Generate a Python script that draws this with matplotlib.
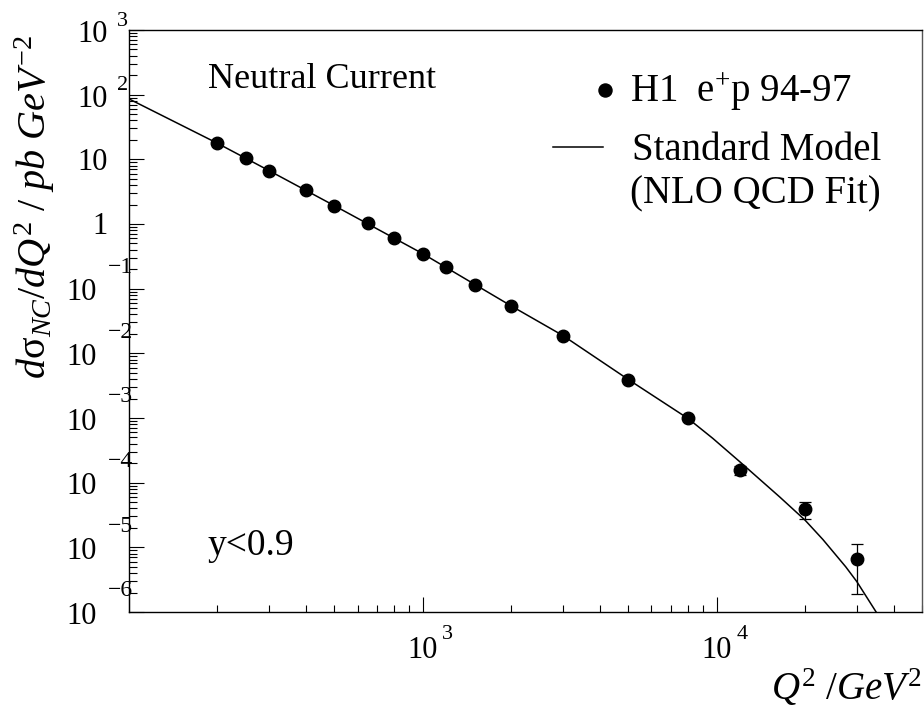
import matplotlib
matplotlib.use("Agg")
import matplotlib.pyplot as plt
from matplotlib import transforms
from matplotlib.lines import Line2D
from matplotlib.ticker import LogLocator, NullFormatter

# ---- Data ----
q2 = [200, 250, 300, 400, 500, 650, 800, 1000, 1200, 1500,
      2000, 3000, 5000, 8000, 12000, 20000, 30000]
xsec = [17.7, 10.4, 6.67, 3.36, 1.92, 1.03, 0.614, 0.347, 0.214, 0.114,
        0.054, 0.0188, 0.00387, 0.000988, 1.57e-4, 3.87e-5, 6.5e-6]
xsec_err = [0.5, 0.3, 0.2, 0.1, 0.06, 0.03, 0.02, 0.011, 0.007, 0.004,
            0.002, 0.0008, 0.0002, 6e-5, 2.6e-5, 1.1e-5, 4.6e-6]

sm_q2 = [100, 200, 300, 500, 1000, 2000, 3000, 5000, 8000, 9700,
         12000, 16400, 20000, 23000, 27500, 30000, 34900]
sm_xsec = [86, 17.7, 6.67, 1.92, 0.347, 0.054, 0.0188, 0.00395, 9.8e-4, 4.85e-4,
           2.1e-4, 6.0e-5, 2.63e-5, 1.32e-5, 5.0e-6, 2.95e-6, 1.0e-6]

y_exps = [-6, -5, -4, -3, -2, -1, 0, 1, 2, 3]
x_exps = [3, 4]

legend_data = "H1  e$^{+}$p 94-97"
legend_sm = ["Standard Model", "(NLO QCD Fit)"]

# ---- Style ----
plt.rcParams["font.family"] = ["Liberation Serif", "DejaVu Serif"]
plt.rcParams["mathtext.fontset"] = "custom"
plt.rcParams["mathtext.rm"] = "Liberation Serif"
plt.rcParams["mathtext.it"] = "Liberation Serif:italic"
plt.rcParams["mathtext.bf"] = "Liberation Serif:bold"

W, H = 924, 712
fig = plt.figure(figsize=(W / 100, H / 100), dpi=100)


def fx(x):
    return x / W


def fy(y):
    return 1 - y / H


ax = fig.add_axes([fx(129), fy(612), (922 - 129) / W, (612 - 30) / H])
ax.set_xscale("log")
ax.set_yscale("log")
ax.set_xlim(100, 5e4)
ax.set_ylim(1e-6, 1e3)

ax.plot(sm_q2, sm_xsec, color="black", lw=1.1)
ax.errorbar(q2, xsec, yerr=xsec_err, fmt="o", color="black", ms=9,
            elinewidth=0.9, capsize=4.3, capthick=0.9)

for sp in ax.spines.values():
    sp.set_linewidth(1.0)
ax.spines["right"].set_color("#555555")

ax.xaxis.set_major_locator(LogLocator(base=10, numticks=20))
ax.xaxis.set_minor_locator(LogLocator(base=10, subs=range(2, 10), numticks=20))
ax.yaxis.set_major_locator(LogLocator(base=10, numticks=20))
ax.yaxis.set_minor_locator(LogLocator(base=10, subs=range(2, 10), numticks=20))
ax.xaxis.set_minor_formatter(NullFormatter())
ax.yaxis.set_minor_formatter(NullFormatter())
ax.tick_params(which="both", direction="in", top=False, right=False,
               labelbottom=False, labelleft=False, width=0.8)
ax.tick_params(which="major", length=10.8)
ax.tick_params(which="minor", length=5.4)


def off(base, dx, dy):
    return transforms.offset_copy(base, fig=fig, x=dx, y=dy, units="dots")


# ROOT-style tick labels: "10" with the exponent placed separately
ytr = ax.get_yaxis_transform()
for e in y_exps:
    v = 10.0 ** e
    if e == 0:
        ax.text(0, v, "1", transform=off(ytr, -21, -10), ha="right",
                va="baseline", size=22)
    elif e == 1:
        ax.text(0, v, "10", transform=off(ytr, -21, -11), ha="right",
                va="baseline", size=22)
    elif e >= 2:
        ax.text(0, v, "10", transform=off(ytr, -21, -12), ha="right",
                va="baseline", size=22)
        ax.text(0, v, str(e), transform=off(ytr, -12, 4.5), ha="left",
                va="baseline", size=16)
    else:
        ax.text(0, v, "10", transform=off(ytr, -32, -11.5), ha="right",
                va="baseline", size=22)
        ax.text(0, v, "\u2212%d" % (-e), transform=off(ytr, -21, 15.5),
                ha="left", va="baseline", size=17)

xtr = ax.get_xaxis_transform()
for e in x_exps:
    v = 10.0 ** e
    ax.text(v, 0, "10", transform=off(xtr, 0, -46), ha="center",
            va="baseline", size=22)
    ax.text(v, 0, str(e), transform=off(xtr, 19.5, -27), ha="left",
            va="baseline", size=16)

# ---- Axis titles ----
fig.text(fx(35), fy(35), r"$d\mathrm{\sigma}_{NC}/dQ^{2}\ /\ pb\ GeV^{-2}$",
         rotation=90, ha="center", va="top", size=29)
fig.text(fx(922), fy(700), r"$Q^{2}\ /GeV^{2}$", ha="right", va="baseline",
         size=28)

# ---- Annotations ----
fig.text(fx(208), fy(88), "Neutral Current", ha="left", va="baseline", size=26)
fig.text(fx(208), fy(555), "y<0.9", ha="left", va="baseline", size=27)

# ---- Legend (drawn by hand, ROOT layout) ----
fig.add_artist(Line2D([fx(605)], [fy(90)], marker="o", ms=9.4, color="black",
                      transform=fig.transFigure))
fig.add_artist(Line2D([fx(553), fx(603)], [fy(146.7), fy(146.7)], lw=1.1,
                      color="black", transform=fig.transFigure))
fig.text(fx(630), fy(101.7), legend_data, ha="left", va="baseline", size=28)
fig.text(fx(632), fy(160), legend_sm[0], ha="left", va="baseline", size=28)
fig.text(fx(630), fy(203), legend_sm[1], ha="left", va="baseline", size=28)

fig.savefig("out.png", dpi=100)
